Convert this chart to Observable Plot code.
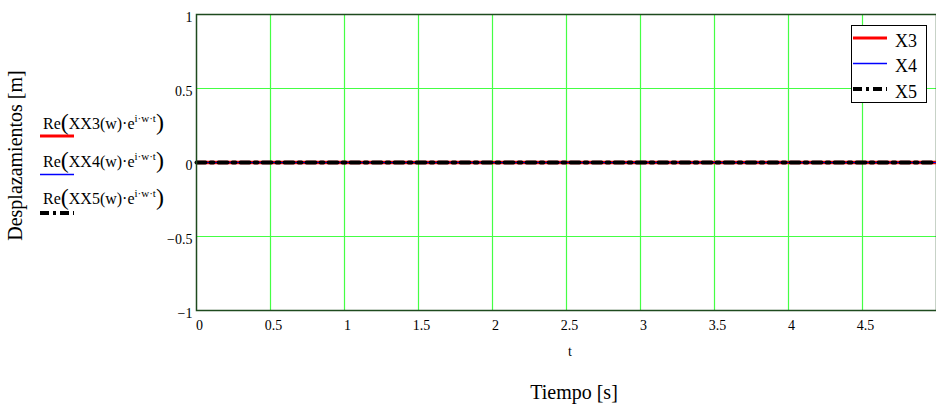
<!DOCTYPE html>
<html><head><meta charset="utf-8">
<script src="https://cdn.jsdelivr.net/npm/d3@7"></script>
<script src="https://cdn.jsdelivr.net/npm/@observablehq/plot@0.6"></script>
<style>
body{margin:0;background:#fff;}
#wrap{position:relative;width:936px;height:407px;overflow:hidden;}
</style></head><body>
<div id="wrap"></div>
<script>
const t = [0, 0.5, 1, 1.5, 2, 2.5, 3, 3.5, 4, 4.5, 5];
const X3 = [0, 0, 0, 0, 0, 0, 0, 0, 0, 0, 0];
const X4 = [0, 0, 0, 0, 0, 0, 0, 0, 0, 0, 0];
const X5 = [0, 0, 0, 0, 0, 0, 0, 0, 0, 0, 0];
const xTicks = [0, 0.5, 1, 1.5, 2, 2.5, 3, 3.5, 4, 4.5];
const yTicks = [-1, -0.5, 0, 0.5, 1];
const xGrid = [0.5, 1, 1.5, 2, 2.5, 3, 3.5, 4, 4.5];
const yGrid = [-0.5, 0, 0.5];
const seriesNames = ["X3", "X4", "X5"];
const formulaNames = ["XX3", "XX4", "XX5"];
const yLabel = "Desplazamientos [m]";
const xVarLabel = "t";
const xLabel = "Tiempo [s]";

const rows = t.map((v, i) => ({t: v, X3: X3[i], X4: X4[i], X5: X5[i]}));
const grid = "#44ff44";
const serif = "Liberation Serif, Times New Roman, serif";
const fmt = d => (d < 0 ? "\u2212" + Math.abs(d) : String(d));

const chart = Plot.plot({
  width: 936, height: 407,
  marginLeft: 196, marginRight: 0, marginTop: 14, marginBottom: 97,
  style: {fontFamily: serif, fontSize: "14px", color: "#000", background: "#fff"},
  x: {domain: [0, 5], label: null},
  y: {domain: [-1, 1], label: null},
  marks: [
    Plot.ruleX(xGrid, {stroke: grid, strokeWidth: 1.2}),
    Plot.ruleY(yGrid, {stroke: grid, strokeWidth: 1.2}),
    Plot.line(rows, {x: "t", y: "X3", stroke: "#ff0000", strokeWidth: 3.5}),
    Plot.line(rows, {x: "t", y: "X4", stroke: "#0000ff", strokeWidth: 1.2}),
    Plot.line(rows, {x: "t", y: "X5", stroke: "#000", strokeWidth: 4, strokeDasharray: "9,5,3,5"}),
    Plot.frame({stroke: "#1e4a1e", strokeWidth: 1.5}),
    Plot.axisX({ticks: xTicks, tickFormat: fmt, tickSize: 0, tickPadding: 10, dx: 3, label: null,
      fontFamily: serif, fontSize: 14}),
    Plot.axisY({ticks: yTicks, tickFormat: fmt, tickSize: 0, tickPadding: 4, dy: 3, label: null,
      fontFamily: serif, fontSize: 14})
  ]
});
document.getElementById("wrap").appendChild(chart);

const svg = d3.select(chart);
const g = svg.append("g").attr("font-family", serif).attr("fill", "#000")
  .attr("text-anchor", "start").style("font-family", serif);

// axis labels
g.append("text").attr("transform", "translate(22,155.5) rotate(-90)")
  .attr("text-anchor", "middle").attr("font-size", 20).text(yLabel);
g.append("text").attr("x", 570).attr("y", 356).attr("text-anchor", "middle")
  .attr("font-size", 14).text(xVarLabel);
g.append("text").attr("x", 574).attr("y", 399).attr("text-anchor", "middle")
  .attr("font-size", 20).text(xLabel);

const lineStyles = [
  {color: "#ff0000", w: 3, dash: null},
  {color: "#0000ff", w: 1.5, dash: null},
  {color: "#000", w: 4, dash: "9,4,3,4"}
];
function sample(x1, x2, y, st) {
  const l = g.append("line").attr("x1", x1).attr("x2", x2).attr("y1", y).attr("y2", y)
    .attr("stroke", st.color).attr("stroke-width", st.w);
  if (st.dash) l.attr("stroke-dasharray", st.dash);
}

// left formula legend
formulaNames.forEach((n, i) => {
  const base = 129 + i * 37.5;
  const txt = g.append("text").attr("x", 43).attr("y", base).attr("font-size", 16);
  txt.append("tspan").text("Re");
  txt.append("tspan").attr("font-size", 24).attr("dy", 1).text("(");
  txt.append("tspan").attr("dy", -1).text(n + "(w)\u00b7e");
  txt.append("tspan").attr("font-size", 11).attr("dy", -7).text("i\u00b7w\u00b7t");
  txt.append("tspan").attr("font-size", 24).attr("dy", 8).text(")");
  sample(40, 74, 136 + i * 38.5, lineStyles[i]);
});

// right legend box
g.append("rect").attr("x", 851.5).attr("y", 25.5).attr("width", 75).attr("height", 77)
  .attr("fill", "#fff").attr("stroke", "#000").attr("stroke-width", 1);
seriesNames.forEach((n, i) => {
  const cy = 38 + i * 25.5;
  sample(853, 887, cy, lineStyles[i]);
  g.append("text").attr("x", 895).attr("y", cy + 8.5).attr("font-size", 18).text(n);
});
</script>
</body></html>
